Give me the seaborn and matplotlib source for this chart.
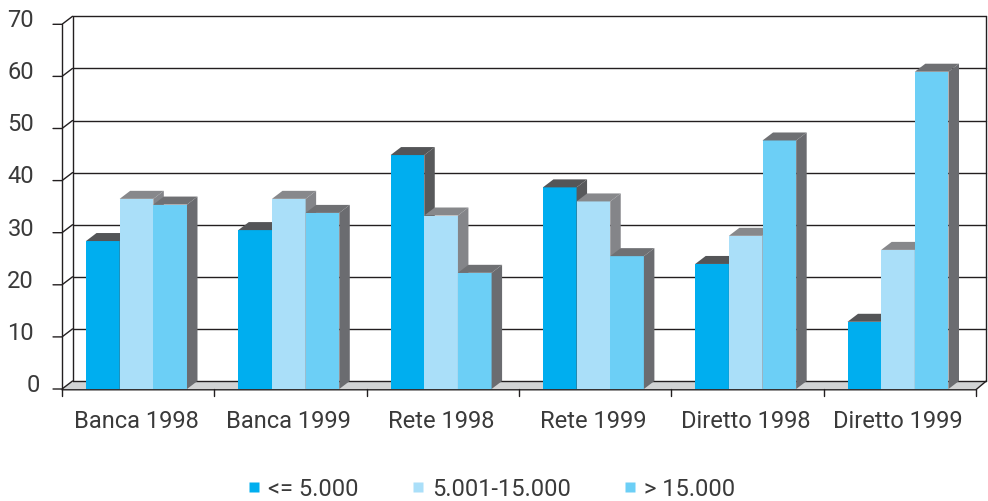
import numpy as np
import pandas as pd
import matplotlib
matplotlib.use("Agg")
import matplotlib.pyplot as plt
from matplotlib.patches import Polygon
from matplotlib.lines import Line2D
import seaborn as sns

# Data: share (%) by channel/year and amount band
categories = ["Banca 1998", "Banca 1999", "Rete 1998", "Rete 1999", "Diretto 1998", "Diretto 1999"]
series = ["<= 5.000", "5.001-15.000", "> 15.000"]
band_low = [28.4, 30.5, 44.9, 38.7, 24.0, 12.9]
band_mid = [36.5, 36.5, 33.3, 36.0, 29.4, 26.7]
band_high = [35.4, 33.8, 22.3, 25.5, 47.7, 60.9]
yticks = [0, 10, 20, 30, 40, 50, 60, 70]

front_colors = ["#00AEEF", "#AADFF9", "#6CCFF6"]
top_colors = ["#545557", "#87888b", "#6f7073"]
side_colors = ["#58595b", "#848589", "#6b6c70"]
line_color = "#231f20"
text_color = "#3a3a3a"
floor_color = "#d1d3d4"

df = pd.DataFrame({
    "categoria": categories * 3,
    "fascia": np.repeat(series, len(categories)),
    "valore": band_low + band_mid + band_high,
})

sns.set_theme(style="white")
plt.rcParams["font.family"] = ["Roboto", "DejaVu Sans"]

W, H = 988, 501
fig = plt.figure(figsize=(W / 100, H / 100), dpi=100)
ax = fig.add_axes([0, 0, 1, 1])

sns.barplot(data=df, x="categoria", y="valore", hue="fascia",
            order=categories, hue_order=series, palette=front_colors,
            width=0.663, saturation=1, edgecolor="none", linewidth=0,
            legend=False, ax=ax)
bars = sorted(list(ax.patches), key=lambda p: p.get_x())

# pixel scale of the drawing
PX = 152.3          # px per category
PY = 5.21           # px per value unit
X0 = 136.5          # pixel x of first group centre
Y0 = 389            # pixel y of value 0
ax.set_xlim(-X0 / PX, (W - X0) / PX)
ax.set_ylim(-(H - Y0) / PY, Y0 / PY)
ax.axis("off")

DX = 10.5 / PX      # depth offset
DY = 8 / PY
x_left = -0.489
x_right = x_left + len(categories)
ymax = yticks[-1]

# floor
ax.add_patch(Polygon([(x_left, 0), (x_right, 0), (x_right + DX, DY), (x_left + DX, DY)],
                     closed=True, facecolor=floor_color, edgecolor="none", zorder=1))

lw = 1.0
# back wall gridlines and side-wall tick connectors
for v in yticks:
    ax.plot([x_left + DX, x_right + DX], [v + DY, v + DY], color=line_color, lw=lw, zorder=1.5)
    ax.plot([x_left - 9 / PX, x_left, x_left + DX], [v, v, v + DY],
            color=line_color, lw=lw, zorder=1.5, solid_joinstyle="miter")
ax.plot([x_left + DX, x_left + DX], [DY, ymax + DY], color=line_color, lw=lw, zorder=1.5)
ax.plot([x_right + DX, x_right + DX], [DY, ymax + DY], color=line_color, lw=lw, zorder=1.5)
ax.plot([x_left, x_left], [0, ymax], color=line_color, lw=lw, zorder=1.5)

# 3D faces on each bar
for i, p in enumerate(bars):
    k = i % 3
    x, w, h = p.get_x(), p.get_width(), p.get_height()
    z = 3 + i * 0.1
    p.set_zorder(z)
    ax.add_patch(Polygon([(x, h), (x + w, h), (x + w + DX, h + DY), (x + DX, h + DY)],
                         closed=True, facecolor=top_colors[k], edgecolor="none", zorder=z + 0.05))
    ax.add_patch(Polygon([(x + w, 0), (x + w + DX, DY), (x + w + DX, h + DY), (x + w, h)],
                         closed=True, facecolor=side_colors[k], edgecolor="none", zorder=z + 0.05))

# front floor edge and category ticks
ax.plot([x_left, x_right, x_right + DX], [-0.15, -0.15, DY], color=line_color, lw=lw, zorder=10)
for k in range(len(categories) + 1):
    ax.plot([x_left + k, x_left + k], [0, -7 / PY], color=line_color, lw=lw, zorder=10)

# labels
fs = 17
for i, c in enumerate(categories):
    ax.text(i, -(421 - Y0) / PY, c, ha="center", va="center", fontsize=fs, color=text_color)
for v in yticks:
    xp = 40 if v == 0 else 34
    ax.text((xp - X0) / PX, v + 0.7, str(v), ha="right", va="center", fontsize=fs, color=text_color)

handles = [Line2D([], [], marker="s", ls="none", markersize=7.2,
                  markerfacecolor=c, markeredgecolor="none") for c in front_colors]
ax.legend(handles, series, loc="center", bbox_to_anchor=(491 / W, 1 - 489 / H),
          ncol=3, frameon=False, fontsize=fs, handlelength=0.6, handletextpad=0.3,
          columnspacing=2.2, borderaxespad=0, borderpad=0, labelcolor=text_color)

fig.savefig("out.png", dpi=100)
